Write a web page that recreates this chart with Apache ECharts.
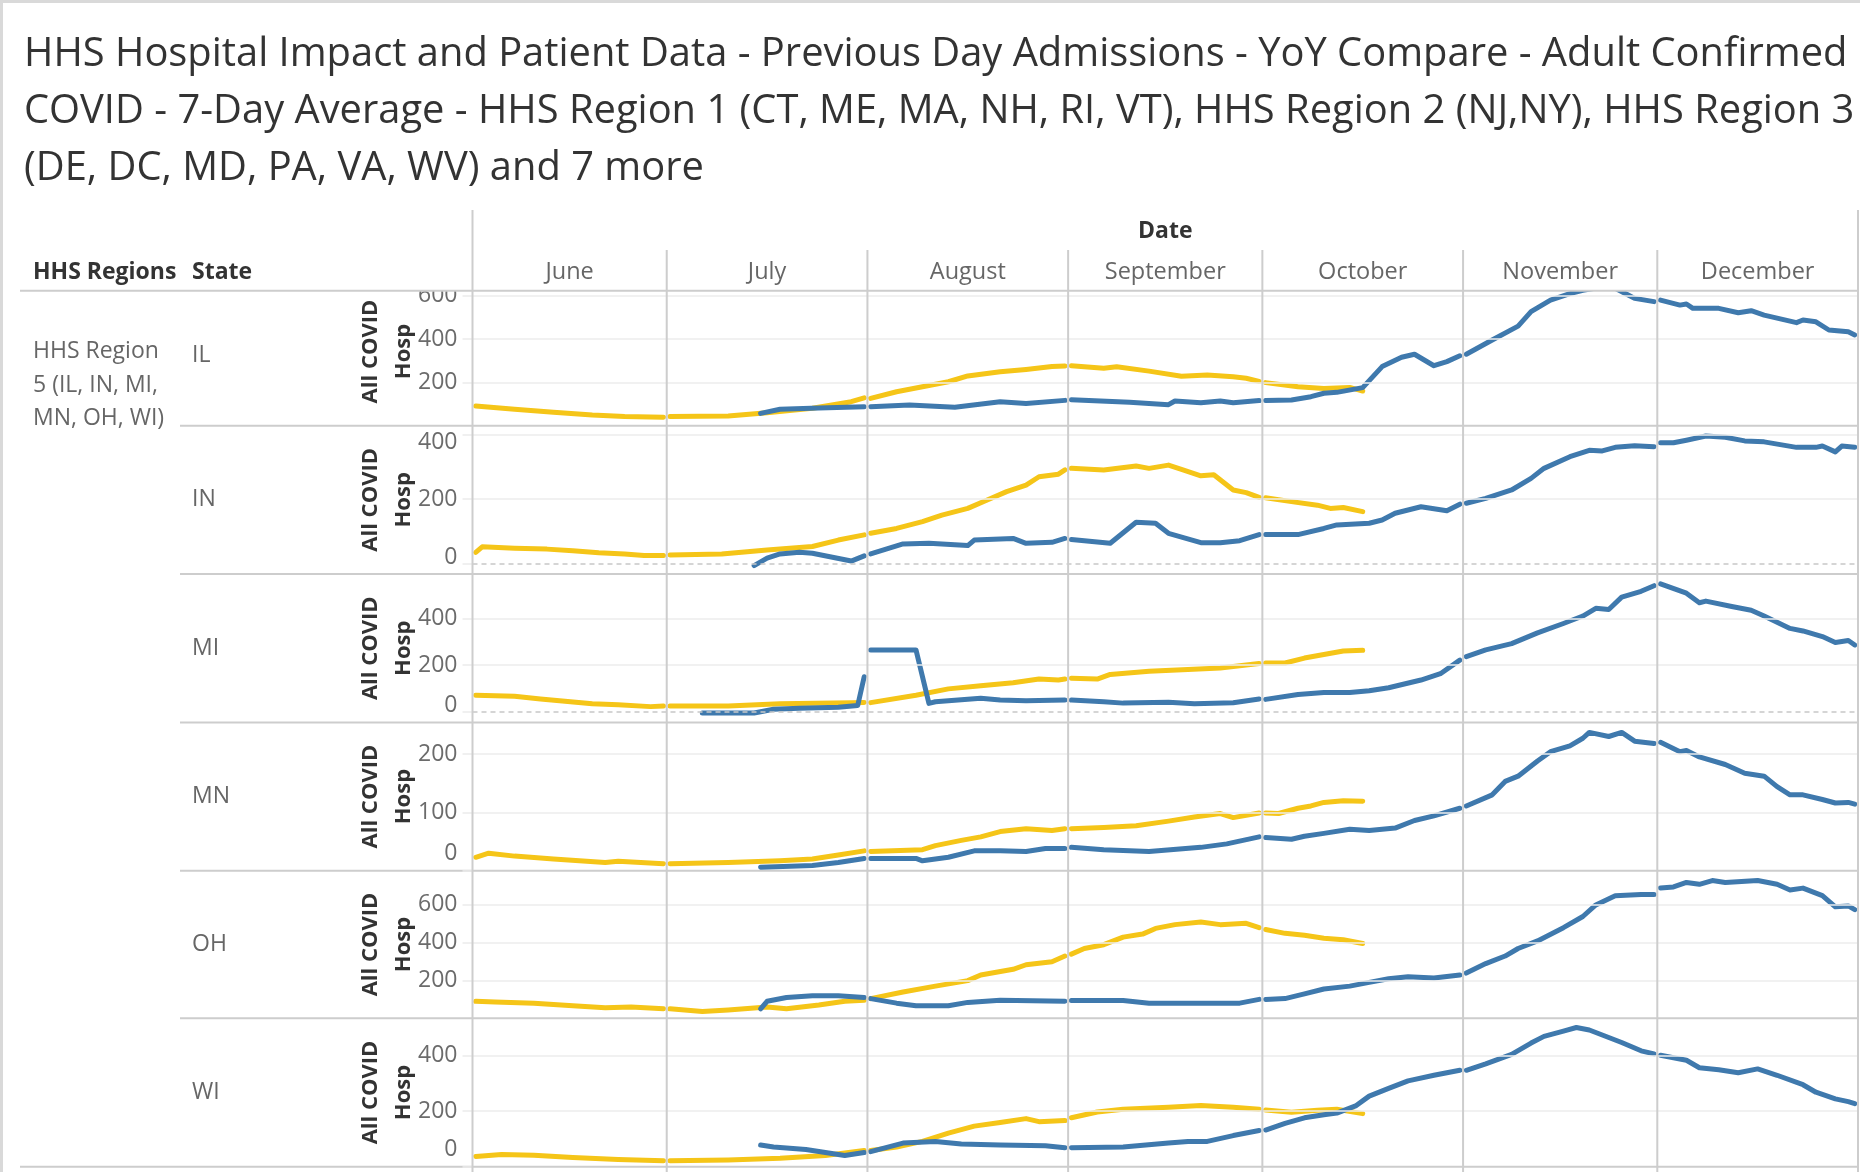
<!DOCTYPE html>
<html><head><meta charset="utf-8">
<script src="https://cdn.jsdelivr.net/npm/echarts@6/dist/echarts.min.js"></script>
<style>html,body{margin:0;padding:0;background:#fff;}#c{width:1860px;height:1172px;}</style>
</head><body><div id="c"></div>
<script>
// ---------- texts ----------
const TITLE_LINES = [
  'HHS Hospital Impact and Patient Data - Previous Day Admissions - YoY Compare - Adult Confirmed',
  'COVID - 7-Day Average - HHS Region 1 (CT, ME, MA, NH, RI, VT), HHS Region 2 (NJ,NY), HHS Region 3',
  '(DE, DC, MD, PA, VA, WV) and 7 more'
];
const MONTHS = ['June','July','August','September','October','November','December'];
const STATES = ['IL','IN','MI','MN','OH','WI'];
const REGION_LABEL = ['HHS Region','5 (IL, IN, MI,','MN, OH, WI)'];
const AXIS_TITLE = 'All COVID\nHosp';
// ---------- axis ticks / ranges ----------
const Y_TICKS = {IL:[200,400,600], IN:[0,200,400], MI:[0,200,400], MN:[0,100,200], OH:[200,400,600], WI:[0,200,400]};
const Y_RANGE = {IL:[0,685], IN:[-32,427], MI:[-46,590], MN:[0,254], OH:[0,780], WI:[0,534]};

// ---------- data (yellow = current year, blue = previous year) ----------
const IL_Y = [["06-01",91],["06-07",76],["06-13",62],["06-19",49],["06-24",42],["06-30",39],
["07-01",42],["07-10",45],["07-16",60],["07-23",81],["07-29",111],["07-31",129],
["08-01",126],["08-05",157],["08-09",180],["08-13",203],["08-16",230],["08-21",249],["08-25",260],["08-29",273],["08-31",276],
["09-01",277],["09-06",265],["09-08",272],["09-13",252],["09-18",228],["09-22",234],["09-26",226],["09-28",219],["09-30",205],
["10-01",199],["10-06",180],["10-10",172],["10-14",177],["10-16",160]];
const IL_B = [["07-15",57],["07-18",76],["07-24",82],["07-31",88],
["08-01",88],["08-07",96],["08-14",85],["08-21",111],["08-25",103],["08-31",117],
["09-01",120],["09-10",108],["09-16",97],["09-17",114],["09-21",106],["09-24",114],["09-26",106],["09-30",116],
["10-01",116],["10-05",119],["10-08",134],["10-10",150],["10-12",154],["10-16",176],["10-19",273],["10-22",316],["10-24",330],["10-27",277],["10-29",296],["10-31",323],
["11-01",330],["11-05",396],["11-09",460],["11-11",527],["11-14",580],["11-17",610],["11-19",625],["11-22",640],["11-24",635],["11-26",604],["11-27",588],["11-30",573],
["12-01",580],["12-04",557],["12-05",562],["12-06",542],["12-10",542],["12-13",522],["12-15",531],["12-17",511],["12-22",476],["12-23",488],["12-25",480],["12-27",442],["12-30",434],["12-31",419]];

const IN_Y = [["06-01",35],["06-02",52],["06-07",48],["06-12",45],["06-16",40],["06-20",34],["06-24",30],["06-27",25],["06-30",25],
["07-01",27],["07-09",30],["07-16",42],["07-23",53],["07-27",73],["07-31",89],
["08-01",94],["08-05",109],["08-09",130],["08-12",150],["08-16",171],["08-19",197],["08-22",223],["08-25",243],["08-27",269],["08-30",277],["08-31",290],
["09-01",295],["09-06",290],["09-11",302],["09-13",295],["09-16",305],["09-18",292],["09-21",272],["09-23",275],["09-26",228],["09-28",220],["09-30",205],
["10-01",204],["10-05",192],["10-09",181],["10-11",171],["10-13",174],["10-16",161]];
const IN_B = [["07-14",-6],["07-16",17],["07-18",30],["07-21",35],["07-23",32],["07-29",8],["07-31",24],
["08-01",30],["08-06",61],["08-10",63],["08-16",56],["08-17",73],["08-23",78],["08-25",63],["08-29",66],["08-31",78],
["09-01",75],["09-07",63],["09-11",128],["09-14",125],["09-16",94],["09-21",65],["09-24",65],["09-27",71],["09-30",90],
["10-01",90],["10-06",90],["10-10",109],["10-12",120],["10-17",125],["10-19",135],["10-21",156],["10-25",176],["10-29",164],["10-31",184],
["11-01",187],["11-04",202],["11-08",228],["11-11",264],["11-13",295],["11-17",331],["11-20",351],["11-22",349],["11-24",360],["11-27",365],["11-30",362],
["12-01",374],["12-03",374],["12-05",382],["12-08",395],["12-11",391],["12-14",380],["12-17",377],["12-22",360],["12-25",360],["12-26",364],["12-28",346],["12-29",364],["12-31",360]];

const MI_Y = [["06-01",71],["06-07",66],["06-11",55],["06-19",34],["06-23",30],["06-28",22],["06-30",25],
["07-01",25],["07-10",25],["07-18",34],["07-29",39],["07-31",40],
["08-01",39],["08-08",71],["08-13",98],["08-18",111],["08-23",124],["08-27",140],["08-30",136],["08-31",140],
["09-01",144],["09-05",140],["09-07",160],["09-13",173],["09-19",181],["09-24",187],["09-28",200],["09-30",207],
["10-01",209],["10-04",209],["10-07",230],["10-10",245],["10-13",260],["10-16",263]];
const MI_B = [["07-06",-5],["07-14",-5],["07-17",11],["07-21",15],["07-27",19],["07-30",27],["07-31",150],
["08-01",265],["08-08",265],["08-10",36],["08-11",43],["08-18",58],["08-21",50],["08-25",47],["08-31",50],
["09-01",50],["09-06",43],["09-09",37],["09-16",41],["09-20",34],["09-26",39],["09-30",55],
["10-01",53],["10-06",74],["10-10",82],["10-14",82],["10-17",90],["10-20",103],["10-25",136],["10-28",163],["10-31",221],
["11-01",236],["11-04",265],["11-08",292],["11-12",338],["11-16",378],["11-19",410],["11-21",443],["11-23",438],["11-25",491],["11-28",516],["11-30",540],
["12-01",548],["12-05",508],["12-07",467],["12-08",474],["12-12",451],["12-15",435],["12-17",410],["12-21",357],["12-23",346],["12-26",322],["12-28",297],["12-30",305],["12-31",286]];

const MN_Y = [["06-01",23],["06-03",30],["06-07",25],["06-13",20],["06-21",14],["06-23",16],["06-30",12],
["07-01",12],["07-10",14],["07-18",17],["07-23",20],["07-27",27],["07-31",34],
["08-01",33],["08-09",36],["08-11",43],["08-15",52],["08-18",58],["08-21",67],["08-25",72],["08-29",69],["08-31",72],
["09-01",72],["09-06",74],["09-11",77],["09-16",85],["09-20",92],["09-24",98],["09-26",91],["09-30",99],
["10-01",99],["10-03",98],["10-06",107],["10-08",111],["10-10",117],["10-13",120],["10-16",119]];
const MN_B = [["07-15",6],["07-23",9],["07-27",14],["07-31",21],
["08-01",21],["08-08",21],["08-09",17],["08-13",23],["08-17",34],["08-21",34],["08-25",33],["08-28",38],["08-31",38],
["09-01",40],["09-06",36],["09-13",33],["09-21",40],["09-25",46],["09-30",58],
["10-01",57],["10-05",54],["10-07",59],["10-10",64],["10-14",71],["10-17",69],["10-21",73],["10-24",86],["10-27",94],["10-31",107],
["11-01",111],["11-05",130],["11-07",153],["11-09",162],["11-12",188],["11-14",204],["11-17",214],["11-19",227],["11-20",237],["11-23",230],["11-25",237],["11-27",222],["11-30",218],
["12-01",220],["12-04",204],["12-05",206],["12-07",195],["12-11",182],["12-14",167],["12-17",162],["12-19",144],["12-21",130],["12-23",130],["12-26",122],["12-28",116],["12-30",117],["12-31",114]];

const OH_Y = [["06-01",90],["06-04",86],["06-10",80],["06-16",66],["06-21",56],["06-25",60],["06-30",50],
["07-01",50],["07-06",36],["07-10",44],["07-16",60],["07-19",50],["07-24",70],["07-28",90],["07-31",96],
["08-01",104],["08-06",139],["08-11",170],["08-16",199],["08-18",229],["08-23",259],["08-25",283],["08-29",299],["08-31",329],
["09-01",339],["09-03",369],["09-06",389],["09-09",429],["09-12",445],["09-14",475],["09-17",495],["09-21",509],["09-24",495],["09-28",502],["09-30",479],
["10-01",469],["10-04",449],["10-07",439],["10-10",423],["10-13",415],["10-16",395]];
const OH_B = [["07-15",50],["07-16",90],["07-19",110],["07-23",119],["07-27",119],["07-31",110],
["08-01",104],["08-05",80],["08-08",66],["08-13",66],["08-16",84],["08-21",96],["08-31",90],
["09-01",94],["09-09",94],["09-13",80],["09-22",80],["09-27",80],["09-30",100],
["10-01",100],["10-04",104],["10-07",129],["10-10",155],["10-14",170],["10-17",190],["10-20",209],["10-23",219],["10-27",213],["10-31",229],
["11-01",239],["11-04",289],["11-07",329],["11-09",369],["11-12",409],["11-16",479],["11-19",538],["11-21",599],["11-24",648],["11-28",654],["11-30",654],
["12-01",688],["12-03",694],["12-05",718],["12-07",708],["12-09",728],["12-11",718],["12-16",728],["12-19",708],["12-21",678],["12-23",688],["12-26",648],["12-28",589],["12-30",594],["12-31",574]];

const WI_Y = [["06-01",37],["06-05",44],["06-10",41],["06-16",33],["06-23",26],["06-30",21],
["07-01",21],["07-10",24],["07-18",30],["07-25",40],["07-31",58],
["08-01",58],["08-05",71],["08-09",91],["08-13",121],["08-17",146],["08-21",159],["08-25",173],["08-27",162],["08-31",166],
["09-01",176],["09-05",197],["09-09",207],["09-16",214],["09-21",220],["09-26",214],["09-30",207],
["10-01",204],["10-05",196],["10-09",203],["10-12",207],["10-16",191]];
const WI_B = [["07-15",78],["07-17",71],["07-22",62],["07-28",40],["07-31",51],
["08-01",54],["08-06",85],["08-11",91],["08-15",82],["08-21",78],["08-28",75],["08-31",68],
["09-01",68],["09-09",71],["09-16",85],["09-19",91],["09-22",91],["09-26",112],["09-30",130],
["10-01",132],["10-04",156],["10-07",176],["10-10",187],["10-12",193],["10-15",220],["10-17",254],["10-20",282],["10-23",309],["10-27",329],["10-31",347],
["11-01",347],["11-04",370],["11-08",404],["11-11",445],["11-13",469],["11-16",488],["11-18",501],["11-20",492],["11-23",465],["11-25",447],["11-28",417],["11-30",406],
["12-01",401],["12-05",383],["12-07",356],["12-10",349],["12-13",338],["12-16",352],["12-19",329],["12-23",295],["12-25",268],["12-28",244],["12-30",234],["12-31",227]];

const SERIES_Y = {IL:IL_Y, IN:IN_Y, MI:MI_Y, MN:MN_Y, OH:OH_Y, WI:WI_Y};
const SERIES_B = {IL:IL_B, IN:IN_B, MI:MI_B, MN:MN_B, OH:OH_B, WI:WI_B};

// ---------- layout / style ----------
const FONT = '"Open Sans"';
const YELLOW = '#f5c518', BLUE = '#3f79ad';
const GRID_LEFT = 472.5, GRID_RIGHT = 2;
const ROW_TOP = [277.4, 425.7, 574.0, 722.5, 870.7, 1018.3];
const ROW_BOT = [425.7, 574.0, 722.5, 870.7, 1018.3, 1166.7];
const HEADER_LINE_Y = 290.7;
const X_MIN = new Date(2021,5,1).getTime(), X_MAX = new Date(2022,0,1).getTime();

function toTime(md){ const [m,d] = md.split('-').map(Number); return new Date(2021, m-1, d, 12).getTime(); }
function build(arr){
  const out = []; let pm = null;
  for (const [md, v] of arr){
    const m = md.slice(0,2);
    if (pm !== null && m !== pm) out.push([toTime(md) - 12*3600e3, null]);
    out.push([toTime(md), v]); pm = m;
  }
  return out;
}

// title font size fitted to the reference line width
const TITLE_WIDTH = 1824;
const ctx = document.createElement('canvas').getContext('2d');
ctx.font = '38px "Open Sans"';
let titleSize = 38 * TITLE_WIDTH / ctx.measureText(TITLE_LINES[0]).width;
titleSize = Math.max(34, Math.min(42, titleSize));

const grids = [], xAxes = [], yAxes = [], series = [];
STATES.forEach((st, i) => {
  const top = ROW_TOP[i], bot = ROW_BOT[i], h = bot - top;
  const [mn, mx] = Y_RANGE[st];
  const ticks = Y_TICKS[st];
  grids.push({left: GRID_LEFT, right: GRID_RIGHT, top: top, height: h, containLabel: false});
  xAxes.push({type:'time', gridIndex:i, min:X_MIN, max:X_MAX, show:false});
  const rich = {};
  ticks.forEach((v,k) => {
    const py = top + (mx - v)/(mx - mn)*h, half = 17;
    const dn = Math.max(0, top + half - py), up = Math.max(0, py + half - bot);
    rich['t'+k] = {padding:[2*dn,0,2*up,0], fontSize:23, color:'#6b6b6b', fontFamily:FONT};
  });
  yAxes.push({
    type:'value', gridIndex:i, min:mn, max:mx,
    axisLine:{show:false}, splitLine:{show:false},
    axisTick:{show:true, customValues:ticks, length:10, lineStyle:{color:'#ececec', width:1.5}},
    axisLabel:{customValues:ticks, margin:15, formatter:(v)=>'{t'+ticks.indexOf(v)+'|'+v+'}', rich:rich},
    name: AXIS_TITLE, nameLocation:'middle', nameRotate:90, nameGap:52, nameMoveOverlap:false,
    nameTextStyle:{fontFamily:FONT, fontSize:22, fontWeight:'bold', color:'#333', lineHeight:33}
  });
  const ml = [];
  ticks.forEach(v => {
    if (v === mn) return;
    if (v === 0) ml.push({yAxis:0, lineStyle:{type:[5,4], color:'#c8c8c8', width:1.5}});
    else ml.push({yAxis:v});
  });
  series.push({type:'line', xAxisIndex:i, yAxisIndex:i, data:[[X_MIN,null]], z:1, silent:true,
    markLine:{silent:true, symbol:['none','none'], label:{show:false}, animation:false,
      lineStyle:{color:'#ececec', width:1.5, type:'solid'}, data:ml}});
  series.push({type:'line', name:st+' current', xAxisIndex:i, yAxisIndex:i, data:build(SERIES_Y[st]),
    showSymbol:false, symbol:'none', connectNulls:false, z:3,
    lineStyle:{color:YELLOW, width:5, cap:'round', join:'round'}, itemStyle:{color:YELLOW}});
  series.push({type:'line', name:st+' previous', xAxisIndex:i, yAxisIndex:i, data:build(SERIES_B[st]),
    showSymbol:false, symbol:'none', connectNulls:false, z:4,
    lineStyle:{color:BLUE, width:5, cap:'round', join:'round'}, itemStyle:{color:BLUE}});
});

const chart = echarts.init(document.getElementById('c'), null, {renderer:'canvas'});
chart.setOption({animation:false, backgroundColor:'#fff', grid:grids, xAxis:xAxes, yAxis:yAxes, series:series});

// ---------- header / table decoration, positioned through the time scale ----------
const px = t => chart.convertToPixel({xAxisIndex:0}, t);
const monthStarts = [];
for (let k = 0; k <= 7; k++) monthStarts.push(new Date(2021, 5+k, 1).getTime());
const G = [];
const LINE = '#cdcdcd';
function line(x1,y1,x2,y2,color,w,z){ G.push({type:'line', z:z||0, silent:true, shape:{x1,y1,x2,y2}, style:{stroke:color, lineWidth:w}}); }
function text(t,x,y,size,color,weight,align,z){ G.push({type:'text', z:z||12, silent:true, style:{text:t, x:x, y:y, fill:color, fontSize:size, fontFamily:FONT, fontWeight:weight||'normal', align:align||'left', verticalAlign:'middle'}}); }

// white mask for scrolled-off top of the first pane
G.push({type:'rect', z:10, silent:true, shape:{x:300, y:0, width:1560, height:HEADER_LINE_Y}, style:{fill:'#fff'}});
// frame
line(0,1.5,1860,1.5,'#d9d9d9',3,11);
line(1.5,0,1.5,1172,'#d9d9d9',3,11);
// title
TITLE_LINES.forEach((t,k)=> text(t, 24, [55,112,169][k], titleSize, '#333', 'normal', 'left', 12));
// column headers
text('Date', (px(X_MIN)+px(X_MAX))/2, 231, 23, '#333', 'bold', 'center', 12);
text('HHS Regions', 33, 272, 23, '#333', 'bold', 'left', 12);
text('State', 192, 272, 23, '#333', 'bold', 'left', 12);
MONTHS.forEach((m,k)=> text(m, (px(monthStarts[k])+px(monthStarts[k+1]))/2, 272, 23.5, '#666', 'normal', 'center', 12));
// vertical lines
monthStarts.forEach((t,k)=>{
  const x = px(t);
  const y0 = (k===0 || k===7) ? 210 : 250;
  line(x, y0, x, 1172, LINE, 2, 11);
});
// header line
line(20, HEADER_LINE_Y, px(X_MAX), HEADER_LINE_Y, LINE, 2, 11);
// row dividers
ROW_BOT.forEach((y,i)=> line(i===5?20:180, y, px(X_MAX), y, LINE, 2, 0));
// row labels
REGION_LABEL.forEach((t,k)=> text(t, 33, 351.7 + k*33.6, 23, '#666', 'normal', 'left', 12));
STATES.forEach((st,i)=>{
  const yc = i===0 ? (HEADER_LINE_Y+ROW_BOT[0])/2 - 3 : (ROW_TOP[i]+ROW_BOT[i])/2;
  text(st, 192, yc, 23, '#666', 'normal', 'left', 12);
});
chart.setOption({graphic:{elements:G}});
</script>
</body></html>
